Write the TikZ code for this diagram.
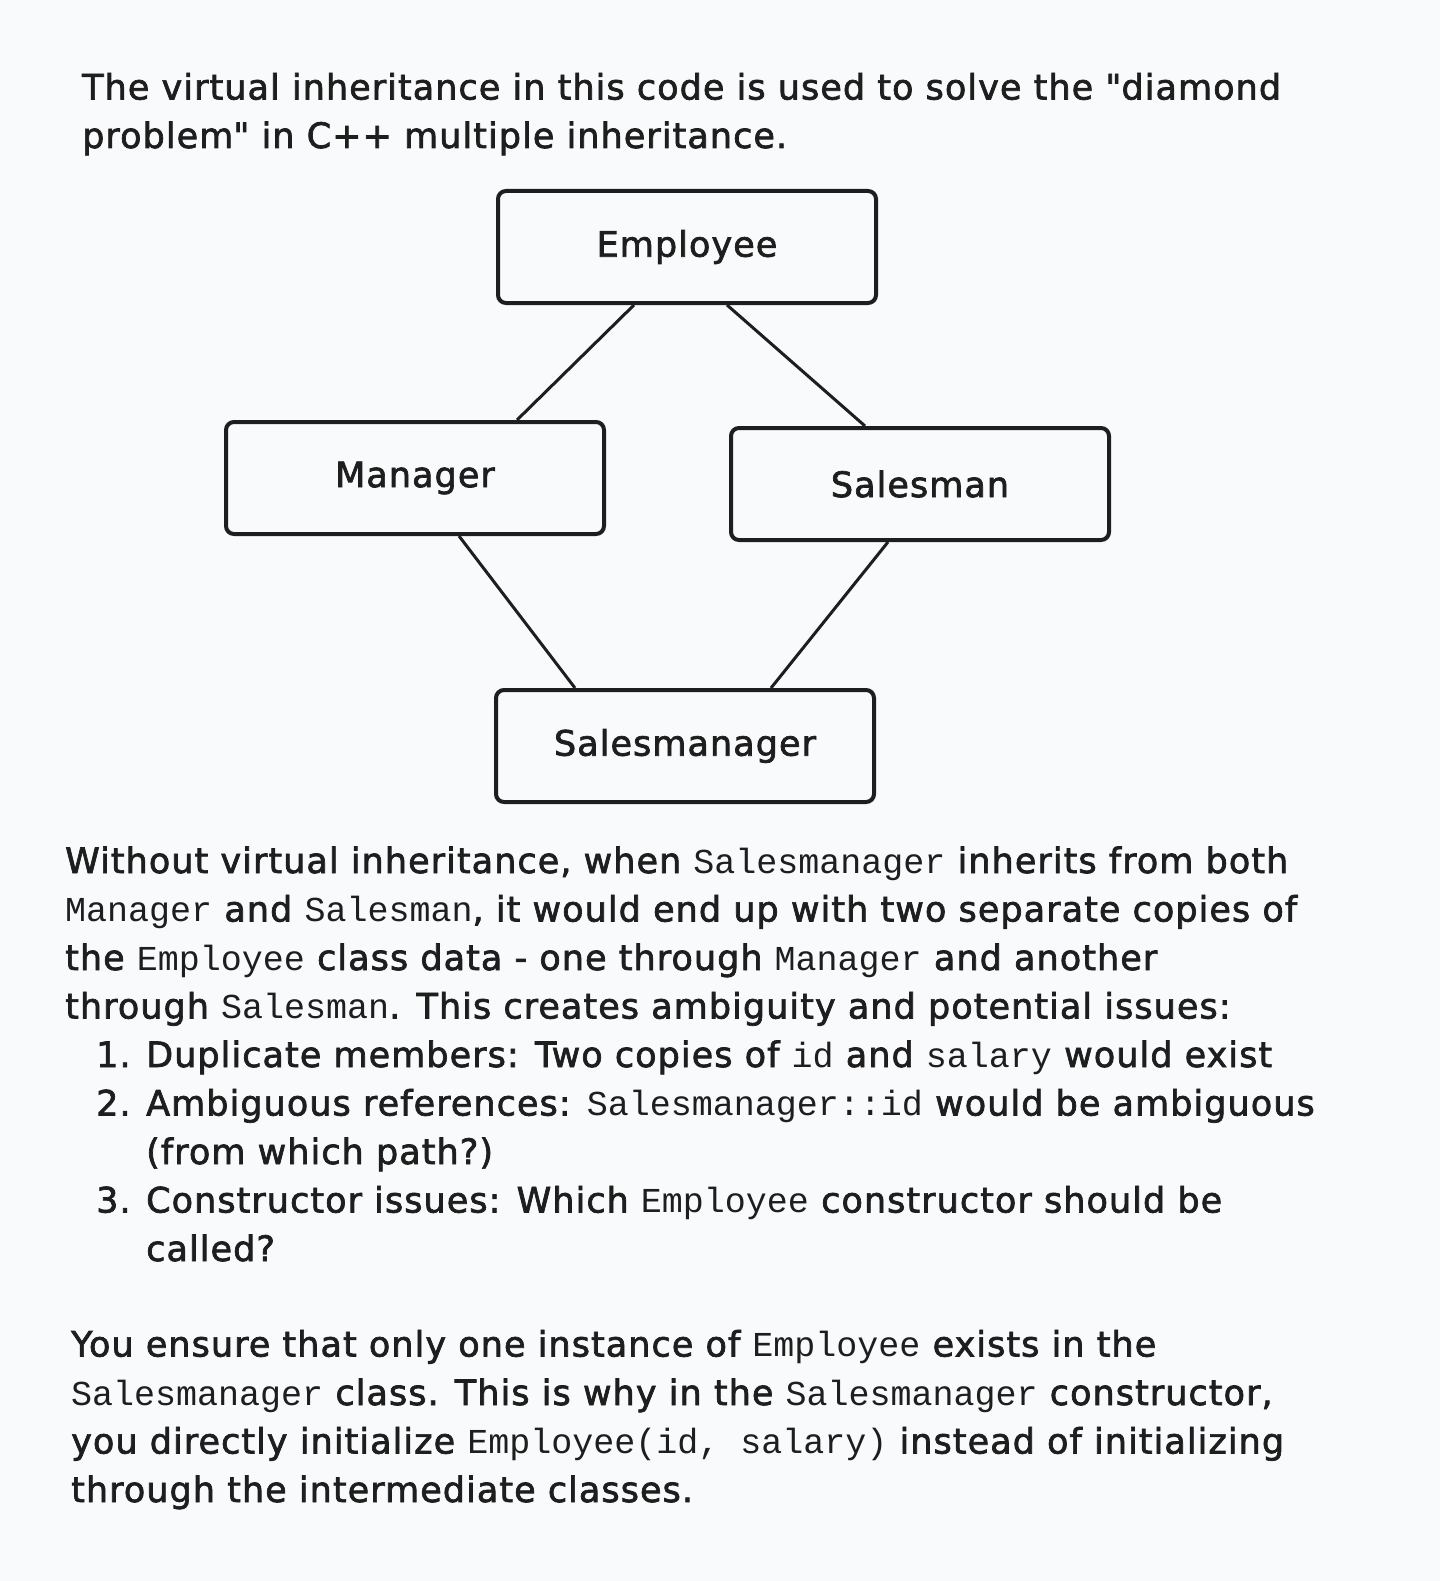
\documentclass[tikz,border=0pt]{standalone}
\usepackage{fontspec}
\setmainfont[LetterSpace=3,FakeBold=2]{DejaVu Sans}
\newfontfamily\codefont{Liberation Mono}
\newcommand{\cls}[1]{{\codefont #1}}
\definecolor{ink}{HTML}{1E1E1E}
\definecolor{paper}{HTML}{F9FAFB}
\begin{document}
\begin{tikzpicture}[x=1pt, y=-1pt,
  classbox/.style = {shape=rectangle, draw=ink, text=ink, line width=4pt,
    rounded corners=8pt, minimum width=378pt, minimum height=112pt,
    font=\fontsize{35}{42}\selectfont},
  link/.style = {draw=ink, line width=3pt},
  para/.style = {anchor=base west, align=left, inner sep=0pt, text=ink,
    font=\fontsize{35}{48.5}\selectfont}]
  \fill[paper] (0,0) rectangle (1440,1581);
  \useasboundingbox (0,0) rectangle (1440,1581);

  % anchored at the baseline of the last line
  \node[para] (intro) at (82,148)
    {The virtual inheritance in this code is used to solve the \textquotedbl diamond\\
     problem\textquotedbl{} in C++ multiple inheritance.};

  \node[classbox] (emp) at (687,247) {Employee};
  \node[classbox] (mgr) at (415,478) {Manager};
  \node[classbox] (sls) at (920,484) {Salesman};
  \node[classbox] (smg) at (685,746) {Salesmanager};

  \draw[link] ([xshift=-53pt]emp.south) -- ([xshift=102pt]mgr.north);
  \draw[link] ([xshift=40pt]emp.south) -- ([xshift=-55pt]sls.north);
  \draw[link] ([xshift=44pt]mgr.south) -- ([xshift=-110pt]smg.north);
  \draw[link] ([xshift=-32pt]sls.south) -- ([xshift=86pt]smg.north);

  \node[para] (body) at (65,1261)
    {Without virtual inheritance, when \cls{Salesmanager} inherits from both\\
     \cls{Manager} and \cls{Salesman}, it would end up with two separate copies of\\
     the \cls{Employee} class data - one through \cls{Manager} and another\\
     through \cls{Salesman}. This creates ambiguity and potential issues:\\
     \hspace*{31pt}\makebox[50pt][l]{1.}Duplicate members: Two copies of \cls{id} and \cls{salary} would exist\\
     \hspace*{31pt}\makebox[50pt][l]{2.}Ambiguous references: \cls{Salesmanager::id} would be ambiguous\\
     \hspace*{81pt}(from which path?)\\
     \hspace*{31pt}\makebox[50pt][l]{3.}Constructor issues: Which \cls{Employee} constructor should be\\
     \hspace*{81pt}called?};

  \node[para] (outro) at (71,1502)
    {You ensure that only one instance of \cls{Employee} exists in the\\
     \cls{Salesmanager} class. This is why in the \cls{Salesmanager} constructor,\\
     you directly initialize \cls{Employee(id, salary)} instead of initializing\\
     through the intermediate classes.};
\end{tikzpicture}
\end{document}
